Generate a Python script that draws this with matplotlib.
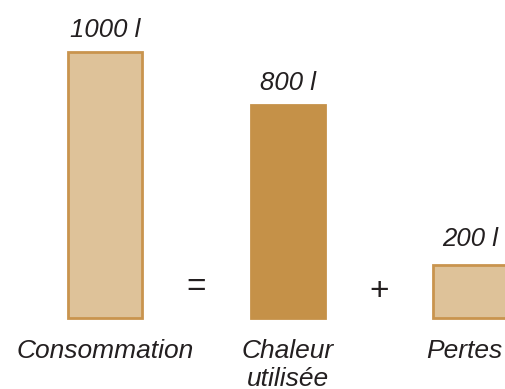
import matplotlib.pyplot as plt

# chart data
categories = ['Consommation', 'Chaleur\nutilisée', 'Pertes']
values = [1000, 800, 200]
value_labels = ['1000 l', '800 l', '200 l']
operators = ['=', '+']

light = '#DEC299'
light_edge = '#C9944E'
dark = '#C59148'
fill_colors = [light, dark, light]
edge_colors = [light_edge, dark, light_edge]
text_color = '#231F20'

plt.rcParams['font.family'] = ['Liberation Sans', 'DejaVu Sans']

fig = plt.figure(figsize=(5.05, 3.89), dpi=100)
ax = fig.add_axes([0, 0, 1, 1])
ax.set_xlim(-0.575, 2.19)
ax.set_ylim(-267, 1195)
ax.axis('off')

x = list(range(len(values)))
ax.bar(x, values, width=0.405, color=fill_colors, edgecolor=edge_colors, linewidth=2)

# value labels above the bars
label_lift = [10, 10, 14]
for i, v in enumerate(values):
    ax.annotate(value_labels[i], xy=(i, v), xytext=(0, label_lift[i]), textcoords='offset pixels',
                ha='center', va='bottom', fontsize=18.5, style='italic', color=text_color)

# category labels under the bars (last one pulled in so it stays inside)
label_shift = [0, 0, -6]
for i, c in enumerate(categories):
    ax.annotate(c, xy=(i, 0), xytext=(label_shift[i], -21), textcoords='offset pixels',
                ha='center', va='top', fontsize=19, style='italic', color=text_color,
                linespacing=1.22)

# = and + between bars
op_lift = [30, 26]
for i, op in enumerate(operators):
    ax.annotate(op, xy=(i + 0.5, 0), xytext=(0, op_lift[i]), textcoords='offset pixels',
                ha='center', va='center', fontsize=24, color=text_color)

fig.savefig('out.png', dpi=100)
